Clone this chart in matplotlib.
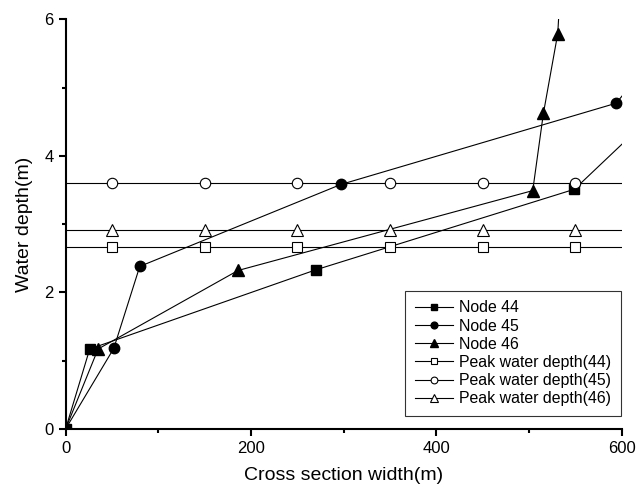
import matplotlib
matplotlib.use('Agg')
import matplotlib.pyplot as plt
from matplotlib.ticker import MultipleLocator

plt.rcParams['font.family'] = ['Liberation Sans', 'DejaVu Sans']

# node profiles (last points fall outside the axes and get clipped)
x44 = [0, 26, 270, 549, 650]
y44 = [0, 1.17, 2.33, 3.51, 4.81]
x45 = [0, 52, 80, 297, 594, 620]
y45 = [0, 1.18, 2.38, 3.58, 4.77, 5.2]
x46 = [0, 35, 186, 504, 515.5, 531, 536]
y46 = [0, 1.17, 2.32, 3.49, 4.62, 5.79, 7.0]

# peak water depth lines
peak_x = [0, 50, 150, 250, 350, 450, 550, 600]
peak44 = 2.67
peak45 = 3.60
peak46 = 2.91

fig = plt.figure(figsize=(6.37, 4.93), dpi=100)
ax = fig.add_axes([0.103, 0.130, 0.873, 0.831])

lw = 0.8
ms = 7.5
ax.plot(x44, y44, color='black', lw=lw, marker='s', ms=ms, label='Node 44')
ax.plot(x45, y45, color='black', lw=lw, marker='o', ms=ms, label='Node 45')
ax.plot(x46, y46, color='black', lw=lw, marker='^', ms=ms + 1, label='Node 46')

for val, mk, lab in [(peak44, 's', 'Peak water depth(44)'),
                     (peak45, 'o', 'Peak water depth(45)'),
                     (peak46, '^', 'Peak water depth(46)')]:
    ax.plot(peak_x, [val] * len(peak_x), color='black', lw=lw, marker=mk,
            ms=ms + (1 if mk == '^' else 0), mfc='white', mec='black', mew=0.8,
            markevery=list(range(1, len(peak_x) - 1)), label=lab)

ax.set_xlim(0, 600)
ax.set_ylim(0, 6)
ax.xaxis.set_major_locator(MultipleLocator(200))
ax.xaxis.set_minor_locator(MultipleLocator(100))
ax.yaxis.set_major_locator(MultipleLocator(2))
ax.yaxis.set_minor_locator(MultipleLocator(1))

for s in ['top', 'right']:
    ax.spines[s].set_visible(False)
for s in ['left', 'bottom']:
    ax.spines[s].set_linewidth(1.5)
ax.tick_params(which='major', direction='out', length=5, width=1.5, labelsize=12)
ax.tick_params(which='minor', direction='out', length=3, width=1.5)

ax.set_xlabel('Cross section width(m)', fontsize=14, labelpad=8)
ax.set_ylabel('Water depth(m)', fontsize=14, labelpad=8)

leg = ax.legend(loc='lower right', bbox_to_anchor=(0.998, 0.032), borderaxespad=0,
                fontsize=11.4, frameon=True, fancybox=False, edgecolor='black',
                markerscale=0.65, handlelength=2.4, handletextpad=0.4,
                borderpad=0.6, labelspacing=0.2)
leg.get_frame().set_linewidth(0.8)

fig.savefig('out.png', dpi=100)
